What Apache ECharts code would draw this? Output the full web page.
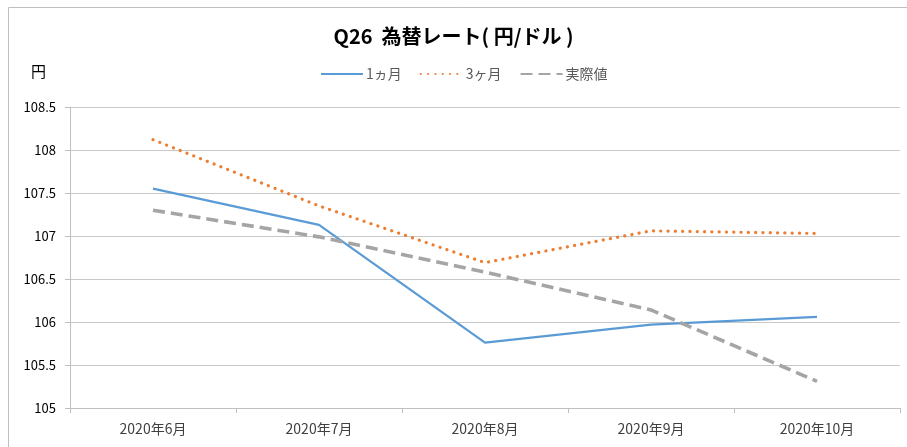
<!DOCTYPE html>
<html><head><meta charset="utf-8">
<script src="https://cdn.jsdelivr.net/npm/echarts@6/dist/echarts.min.js"></script>
<style>html,body{margin:0;padding:0;background:#fff}#c{width:907px;height:447px}</style>
</head><body><div id="c"></div>
<script>
const categories = ['2020年6月','2020年7月','2020年8月','2020年9月','2020年10月'];
const oneMonth = [107.55, 107.13, 105.76, 105.97, 106.06];
const threeMonth = [108.12, 107.35, 106.69, 107.06, 107.03];
const actual = [107.30, 106.99, 106.58, 106.14, 105.31];
const seriesNames = ['1ヵ月','3ヶ月','実際値'];
const titleText = 'Q26  為替レート( 円/ドル )';
const unitLabel = '円';

const FONT = '"Noto Sans CJK JP", "Noto Sans", sans-serif';
const chart = echarts.init(document.getElementById('c'), null, {renderer:'canvas'});
chart.setOption({
  animation:false,
  backgroundColor:'#fff',
  textStyle:{fontFamily:FONT},
  title:{text:titleText,left:'center',top:21,itemGap:0,
    textStyle:{fontFamily:FONT,fontSize:20,fontWeight:'bold',color:'#000'}},
  legend:{left:315,top:62,itemWidth:42,itemHeight:14,itemGap:18,
    itemStyle:{opacity:0},
    textStyle:{fontFamily:FONT,fontSize:14,color:'#595959',padding:[0,0,0,-2]},
    data:seriesNames},
  graphic:[
    {type:'rect',shape:{x:8.5,y:7.5,width:920,height:460},style:{fill:null,stroke:'#BFBFBF',lineWidth:1},silent:true,z:-1},
    {type:'text',left:31,top:64,style:{text:unitLabel,font:'15px '+FONT,fill:'#000'}}
  ],
  grid:{left:70,right:7,top:107,bottom:39,containLabel:false},
  xAxis:{type:'category',data:categories,boundaryGap:true,
    axisLine:{lineStyle:{color:'#BFBFBF',width:1}},
    axisTick:{show:true,length:5,lineStyle:{color:'#BFBFBF'}},
    axisLabel:{fontFamily:FONT,fontSize:14,color:'#404040',margin:14}},
  yAxis:{type:'value',min:105,max:108.5,interval:0.5,
    axisLine:{show:true,lineStyle:{color:'#BFBFBF',width:1}},
    axisTick:{show:true,length:5,lineStyle:{color:'#BFBFBF'}},
    axisLabel:{fontFamily:FONT,fontSize:13,color:'#000',margin:14}, 
    splitLine:{lineStyle:{color:'#C8C8C8',width:1}}},
  series:[
    {name:seriesNames[0],type:'line',data:oneMonth,symbol:'none',
      itemStyle:{color:'#5B9BD5'},
      lineStyle:{color:'#5B9BD5',width:2.25}},
    {name:seriesNames[1],type:'line',data:threeMonth,symbol:'none',
      itemStyle:{color:'#ED7D31'},
      lineStyle:{color:'#ED7D31',width:3.2,type:[0.1,7.2],cap:'round'}},
    {name:seriesNames[2],type:'line',data:actual,symbol:'none',
      itemStyle:{color:'#A5A5A5'},
      lineStyle:{color:'#A5A5A5',width:3.6,type:[12,6],cap:'butt'}}
  ]
});
</script></body></html>
